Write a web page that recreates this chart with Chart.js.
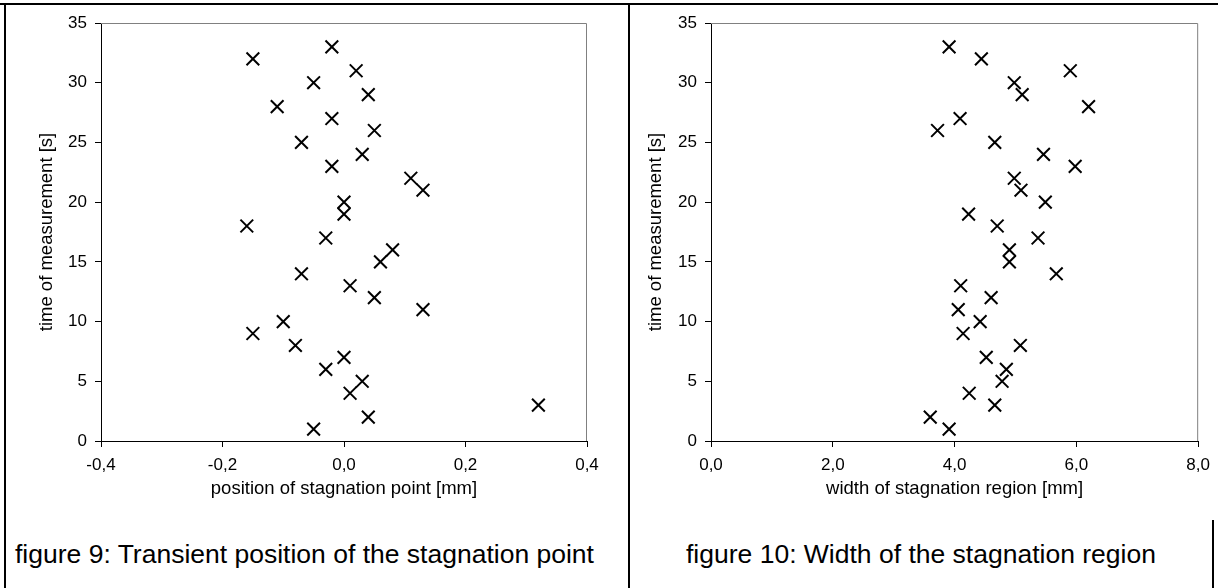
<!DOCTYPE html>
<html>
<head>
<meta charset="utf-8">
<script src="https://cdn.jsdelivr.net/npm/chart.js@4/dist/chart.umd.min.js"></script>
<style>
    body { margin: 0; background: #fff; }
    #page { position: relative; width: 1218px; height: 588px; overflow: hidden; font-family: "Liberation Sans", Arial, sans-serif; }
    .panel { position: absolute; top: 0; }
    .caption { position: absolute; font-size: 26.5px; line-height: 30px; color: #000; white-space: nowrap; }
    .rule { position: absolute; background: #000; }
</style>
</head>
<body>
<div id="page">
    <div class="rule" style="left:0; top:3px; width:1218px; height:2px;"></div>
    <div class="rule" style="left:4px; top:3px; width:2px; height:585px;"></div>
    <div class="rule" style="left:628px; top:3px; width:2px; height:585px;"></div>
    <div class="rule" style="left:1212px; top:520px; width:2px; height:68px;"></div>

    <div class="panel" style="left:0;"><canvas id="chart-position" width="629" height="510"></canvas></div>
    <div class="panel" style="left:629px;"><canvas id="chart-width" width="589" height="510"></canvas></div>

    <div class="caption" style="left:15px; top:539px;">figure 9: Transient position of the stagnation point</div>
    <div class="caption" style="left:686px; top:539px;">figure 10: Width of the stagnation region</div>
</div>
<script>
// time of measurement [s]
const times = [33, 32, 31, 30, 29, 28, 27, 26, 25, 24, 23, 22, 21, 20, 19, 18, 17,
               16, 15, 14, 13, 12, 11, 10, 9, 8, 7, 6, 5, 4, 3, 2, 1];
// position of stagnation point [mm]
const positions = [-0.02, -0.15, 0.02, -0.05, 0.04, -0.11, -0.02, 0.05, -0.07, 0.03, -0.02, 0.11, 0.13, 0.00, 0.00, -0.16, -0.03,
                   0.08, 0.06, -0.07, 0.01, 0.05, 0.13, -0.10, -0.15, -0.08, 0.00, -0.03, 0.03, 0.01, 0.32, 0.04, -0.05];
// width of stagnation region [mm]
const widths = [3.91, 4.44, 5.90, 4.98, 5.11, 6.20, 4.09, 3.72, 4.66, 5.46, 5.98, 4.98, 5.09, 5.49, 4.23, 4.70, 5.37,
                4.90, 4.90, 5.67, 4.10, 4.60, 4.06, 4.42, 4.14, 5.08, 4.52, 4.85, 4.78, 4.24, 4.66, 3.60, 3.91];

const timeTicks = [0, 5, 10, 15, 20, 25, 30, 35];
const positionTicks = [-0.4, -0.2, 0.0, 0.2, 0.4];
const widthTicks = [0, 2, 4, 6, 8];

Chart.defaults.font.family = '"Liberation Sans", Arial, sans-serif';
Chart.defaults.color = '#000';

// grey border on top and right of the plot area
const plotFrame = {
    id: 'plotFrame',
    beforeDatasetsDraw(chart) {
        const a = chart.chartArea;
        const ctx = chart.ctx;
        ctx.save();
        ctx.strokeStyle = '#808080';
        ctx.lineWidth = 1;
        ctx.beginPath();
        ctx.moveTo(a.left, a.top + 0.5);
        ctx.lineTo(a.right - 0.5, a.top + 0.5);
        ctx.lineTo(a.right - 0.5, a.bottom);
        ctx.stroke();
        ctx.restore();
    }
};

function commaFormat(v) {
    return v.toFixed(1).replace('.', ',');
}

function makeScatter(canvasId, xs, xTicks, xTitle, yAxisWidth, yTitlePad, rightPad) {
    const points = xs.map((x, i) => ({ x: x, y: times[i] }));
    return new Chart(document.getElementById(canvasId), {
        type: 'scatter',
        data: {
            datasets: [{
                data: points,
                pointStyle: 'crossRot',
                pointRadius: 9,
                pointBorderWidth: 2,
                borderColor: '#000',
                backgroundColor: '#000'
            }]
        },
        plugins: [plotFrame],
        options: {
            responsive: false,
            devicePixelRatio: 1,
            animation: false,
            layout: {
                padding: { top: 23, right: rightPad, left: 0, bottom: 0 }
            },
            scales: {
                x: {
                    type: 'linear',
                    min: xTicks[0],
                    max: xTicks[xTicks.length - 1],
                    afterBuildTicks: (axis) => { axis.ticks = xTicks.map(v => ({ value: v })); },
                    afterFit: (axis) => { axis.height = 69; },
                    grid: { drawOnChartArea: false, tickLength: 6, tickColor: '#000' },
                    border: { color: '#000', width: 1 },
                    ticks: {
                        padding: 8,
                        font: { size: 17 },
                        callback: (v) => commaFormat(v)
                    },
                    title: {
                        display: true,
                        text: xTitle,
                        font: { size: 18.5 },
                        padding: { top: 0, bottom: 10 }
                    }
                },
                y: {
                    type: 'linear',
                    min: 0,
                    max: 35,
                    afterBuildTicks: (axis) => { axis.ticks = timeTicks.map(v => ({ value: v })); },
                    afterFit: (axis) => { axis.width = yAxisWidth; },
                    grid: { drawOnChartArea: false, tickLength: 6, tickColor: '#000' },
                    border: { color: '#000', width: 1 },
                    ticks: {
                        padding: 8,
                        font: { size: 17 }
                    },
                    title: {
                        display: true,
                        text: 'time of measurement [s]',
                        font: { size: 18.5 },
                        padding: { top: yTitlePad, bottom: 0 }
                    }
                }
            },
            plugins: {
                legend: { display: false },
                tooltip: { enabled: false }
            }
        }
    });
}

makeScatter('chart-position', positions, positionTicks, 'position of stagnation point [mm]', 101, 36, 42);
makeScatter('chart-width', widths, widthTicks, 'width of stagnation region [mm]', 82, 16, 17);
</script>
</body>
</html>
